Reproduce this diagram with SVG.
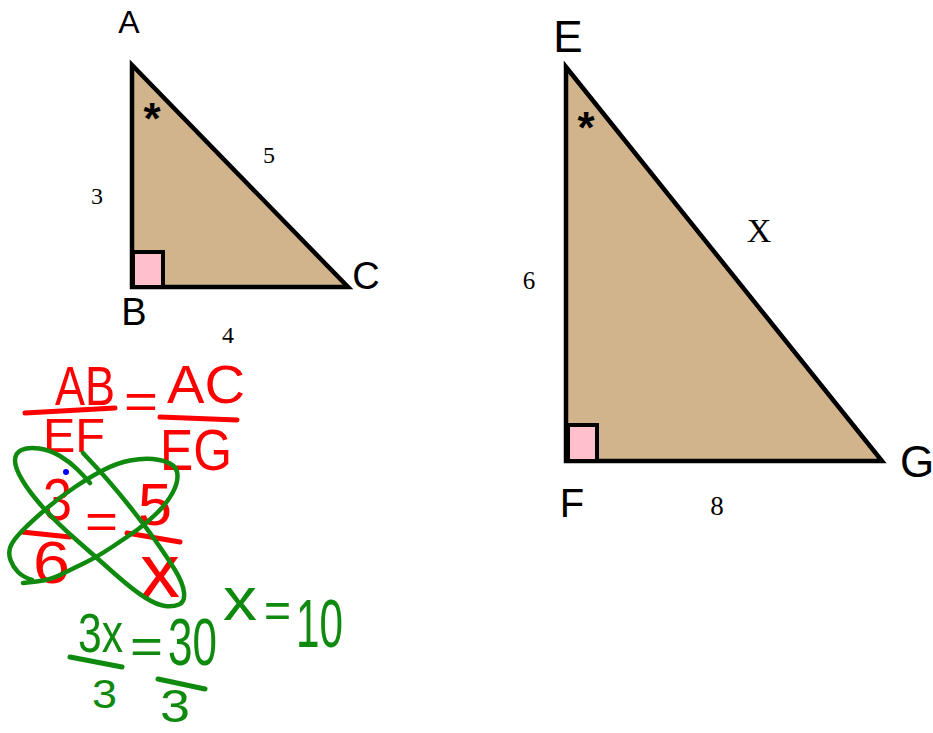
<svg xmlns="http://www.w3.org/2000/svg" width="933" height="733" viewBox="0 0 933 733">
<style>
.tri{fill:#D2B48C;stroke:#000;stroke-width:4.5;stroke-linejoin:miter}
.sq{fill:#FFC0CB;stroke:#000;stroke-width:4}
.lbl{font-family:"Liberation Sans",Arial,sans-serif;fill:#000}
.num{font-family:"Liberation Serif","Times New Roman",serif;fill:#000}
.ast{font-family:"Liberation Sans",Arial,sans-serif;font-weight:bold;fill:#000}
.red{font-family:"Liberation Sans",Arial,sans-serif;fill:#FF0000}
.grn{font-family:"Liberation Sans",Arial,sans-serif;fill:#0F8A0F}
.rbar{stroke:#FF0000;stroke-width:5;stroke-linecap:round;fill:none}
.gbar{stroke:#0F8A0F;stroke-width:5;stroke-linecap:round;fill:none}
.loop{stroke:#0F8A0F;stroke-width:4.5;stroke-linecap:round;stroke-linejoin:round;fill:none}
</style>
<rect width="933" height="733" fill="#fff"/>

<g id="triangle-ABC">
<polygon class="tri" points="132,65 132,287 348,287"/>
<rect class="sq" x="133" y="252" width="30" height="35"/>
<text class="ast" x="152" y="134" font-size="44" text-anchor="middle">*</text>
<text class="lbl" x="129" y="33" font-size="32" text-anchor="middle">A</text>
<text class="lbl" x="134" y="325" font-size="38" text-anchor="middle">B</text>
<text class="lbl" x="366" y="289" font-size="38" text-anchor="middle">C</text>
<text class="num" x="97" y="204" font-size="24" text-anchor="middle">3</text>
<text class="num" x="269" y="163" font-size="24" text-anchor="middle">5</text>
<text class="num" x="228" y="343" font-size="24" text-anchor="middle">4</text>
</g>

<g id="triangle-EFG">
<polygon class="tri" points="566,67 566,461 882,461"/>
<rect class="sq" x="568" y="425" width="29" height="36"/>
<text class="ast" x="586" y="143" font-size="44" text-anchor="middle">*</text>
<text class="lbl" x="568" y="52" font-size="44" text-anchor="middle">E</text>
<text class="lbl" x="572" y="517" font-size="40" text-anchor="middle">F</text>
<text class="lbl" x="917" y="477" font-size="44" text-anchor="middle">G</text>
<text class="num" x="529" y="289" font-size="25" text-anchor="middle">6</text>
<text class="num" x="759" y="242" font-size="34" text-anchor="middle">X</text>
<text class="num" x="717" y="515" font-size="27" text-anchor="middle">8</text>
</g>

<g id="work-red">
<text class="red" x="55" y="405" font-size="56" textLength="60" lengthAdjust="spacingAndGlyphs">AB</text>
<path class="rbar" d="M25,413 L115,408"/>
<text class="red" x="43" y="452" font-size="49" textLength="62" lengthAdjust="spacingAndGlyphs">EF</text>
<text class="red" x="124" y="418" font-size="50" textLength="34" lengthAdjust="spacingAndGlyphs">=</text>
<text class="red" x="167" y="403" font-size="53" textLength="78" lengthAdjust="spacingAndGlyphs">AC</text>
<path class="rbar" d="M160,417 L237,420"/>
<text class="red" x="160" y="470" font-size="58" textLength="72" lengthAdjust="spacingAndGlyphs">EG</text>
<text class="red" x="43" y="520" font-size="60" textLength="29" lengthAdjust="spacingAndGlyphs">3</text>
<path class="rbar" d="M22,532 L70,537"/>
<text class="red" x="85" y="538" font-size="50" textLength="33" lengthAdjust="spacingAndGlyphs">=</text>
<text class="red" x="138" y="525" font-size="60" textLength="34" lengthAdjust="spacingAndGlyphs">5</text>
<path class="rbar" d="M127,533 L180,542"/>
<text class="red" x="33" y="583" font-size="60" textLength="37" lengthAdjust="spacingAndGlyphs">6</text>
<text class="red" x="140" y="597" font-size="76" textLength="40" lengthAdjust="spacingAndGlyphs">x</text>
<circle cx="66" cy="472" r="3" fill="#0000FF"/>
</g>

<g id="work-green">
<path class="loop" d="M83,453 L96.5,467.5 Q110,482 126.5,502.5 Q143,523 155,540 Q167,557 175,570 Q183,583 184,592.5 Q185,602 179,604.5 Q173,607 165,606 Q157,605 145,597.5 Q133,590 115,574 Q97,558 77,540.5 Q57,523 43.5,508 Q30,493 22.5,480.5 Q15,468 15,460.5 Q15,453 21.5,450 Q28,447 39,448.5 Q50,450 60,456 Q70,462 77.5,469.5 Q85,477 90,483"/>
<path class="loop" d="M23,583 L36.5,581.5 Q50,580 60,575 Q70,570 83.5,563.5 Q97,557 112,547 Q127,537 137,530 Q147,523 157,513 Q167,503 172.5,493 Q178,483 177.5,475 Q177,467 170,463.5 Q163,460 153,459 Q143,458 130,460.5 Q117,463 103.5,470 Q90,477 75,487 Q60,497 46.5,508.5 Q33,520 23,530 Q13,540 10.5,546.5 Q8,553 10.5,560 Q13,567 18,572 Q23,577 32,580"/>
<text class="grn" x="78" y="652" font-size="56" textLength="45" lengthAdjust="spacingAndGlyphs">3x</text>
<path class="gbar" d="M70,657 L122,667"/>
<text class="grn" x="130" y="663" font-size="50" textLength="33" lengthAdjust="spacingAndGlyphs">=</text>
<text class="grn" x="168" y="665" font-size="66" textLength="49" lengthAdjust="spacingAndGlyphs">30</text>
<text class="grn" x="92" y="708" font-size="40" textLength="25" lengthAdjust="spacingAndGlyphs">3</text>
<path class="gbar" d="M158,679 L205,689"/>
<text class="grn" x="160" y="722" font-size="46" textLength="30" lengthAdjust="spacingAndGlyphs">3</text>
<text class="grn" x="223" y="620" font-size="62" textLength="34" lengthAdjust="spacingAndGlyphs">x</text>
<text class="grn" x="264" y="627" font-size="50" textLength="27" lengthAdjust="spacingAndGlyphs">=</text>
<text class="grn" x="296" y="647" font-size="68" textLength="47" lengthAdjust="spacingAndGlyphs">10</text>
</g>
</svg>
